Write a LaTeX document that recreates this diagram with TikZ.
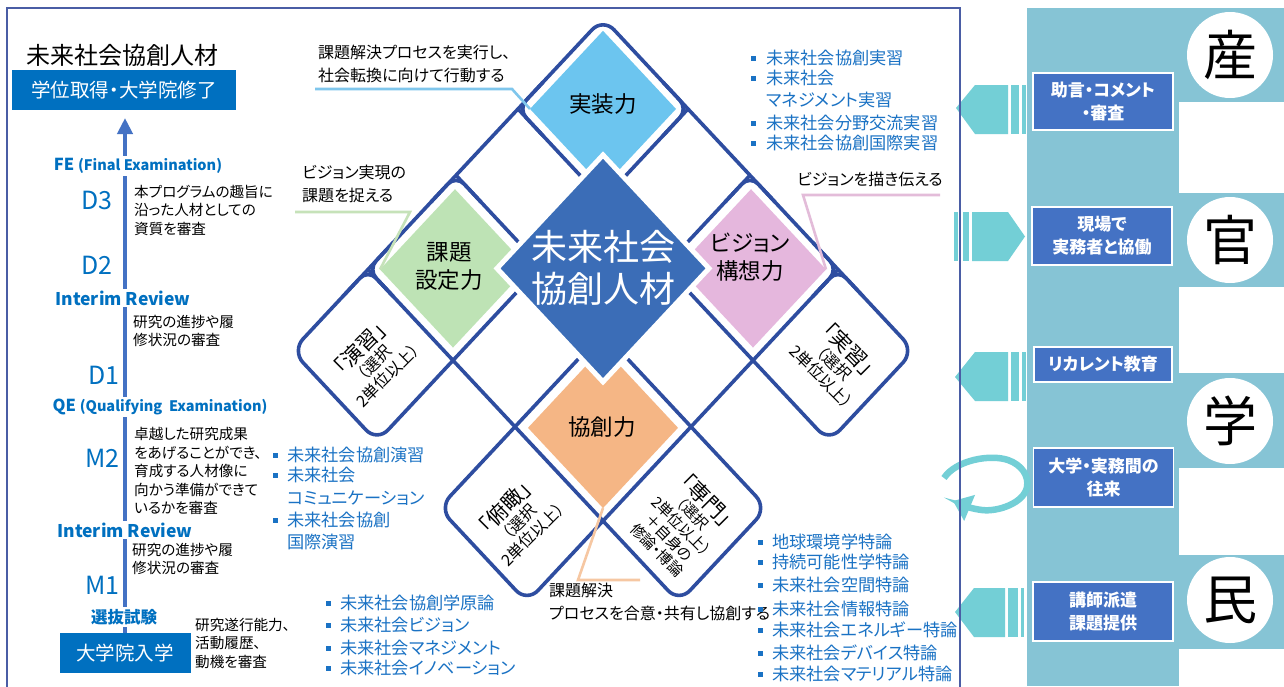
\documentclass[tikz,border=0pt]{standalone}
\usepackage{fontspec}
\setmainfont{Noto Sans CJK JP}[RawFeature=+palt]
\usetikzlibrary{arrows.meta}
\newcommand{\myfs}[2]{\fontsize{#1}{#2}\selectfont}
\definecolor{framecol}{HTML}{4A5DA5}
\definecolor{lattcol}{HTML}{2E4DA0}
\definecolor{fblue}{HTML}{6CC5EF}
\definecolor{fgreen}{HTML}{BEE3B5}
\definecolor{fpink}{HTML}{E5B7DD}
\definecolor{forange}{HTML}{F5B685}
\definecolor{darkdia}{HTML}{3B6DB7}
\definecolor{leadblue}{HTML}{7FC6EC}
\definecolor{leadgreen}{HTML}{C6E2B9}
\definecolor{leadpink}{HTML}{E3BCD9}
\definecolor{leadorange}{HTML}{F6C7A2}
\definecolor{listblue}{HTML}{1A72C4}
\definecolor{labblue}{HTML}{0070C0}
\definecolor{axisblue}{HTML}{4472C4}
\definecolor{panelcol}{HTML}{86C4D5}
\definecolor{pboxcol}{HTML}{4472C4}
\definecolor{tealcol}{HTML}{73CFD6}
\begin{document}
\begin{tikzpicture}[x=1pt,y=-1pt,
  latt/.style={draw=lattcol, line width=3.6pt},
  lead/.style={line width=2.6pt},
  note/.style={inner sep=0pt, align=left, anchor=west, font=\myfs{14.6}{18.5}},
  lab/.style={inner sep=2pt, fill=white, text=labblue, font=\bfseries\myfs{17.5}{19}},
  dlab/.style={inner sep=0pt, anchor=east, text=labblue, font=\myfs{25}{28}},
  listtxt/.style={inner sep=0pt, anchor=west, text=listblue, font=\myfs{17.2}{21}},
  bul/.style={fill=listblue},
  pbox/.style={fill=pboxcol, draw=white, line width=1.2pt, text=white, font=\bfseries\myfs{17}{23}, align=center, minimum width=140pt, inner sep=0pt},
  circ/.style={circle, fill=white, minimum size=86pt, inner sep=0pt, font=\myfs{54}{54}},
  callout/.style={inner sep=0pt, anchor=west, align=left, font=\myfs{16}{23}},
  facet/.style={inner sep=0pt, align=center, font=\myfs{22.5}{28}},
  rottxt/.style={inner sep=0pt, align=center, font=\myfs{16}{18.5}},
  bluebox/.style={fill=labblue, text=white, inner sep=0pt, font=\myfs{19.5}{22}},
  arrowfill/.style={fill=tealcol}
]
\fill[white] (0,0) rectangle (1284,686);
\useasboundingbox (0,0) rectangle (1284,686);

% ---------- right panel ----------
\fill[panelcol] (1027,8) rectangle (1179,686);
\fill[panelcol] (1179,8) rectangle (1284,102);
\fill[panelcol] (1179,193) rectangle (1284,287);
\fill[panelcol] (1179,373) rectangle (1284,468);
\fill[panelcol] (1179,555) rectangle (1284,649);
\node[circ] (san) at (1230,55) {産};
\node[circ] (kan) at (1230,240) {官};
\node[circ] (gaku) at (1230,421) {学};
\node[circ] (min) at (1230,600) {民};

\node[pbox, minimum height=57pt] (pb1) at (1103,101.5) {助言・コメント\\・審査};
\node[pbox, minimum height=58pt] (pb2) at (1102,236) {現場で\\実務者と協働};
\node[pbox, minimum height=35pt, minimum width=138pt] (pb3) at (1103,364.5) {リカレント教育};
\node[pbox, minimum height=59pt] (pb4) at (1103.5,477.5) {大学・実務間の\\往来};
\node[pbox, minimum height=59pt] (pb5) at (1103,611.5) {講師派遣\\課題提供};

% arrows
\fill[arrowfill] (956,108) -- (975,85) -- (1008,85) -- (1008,134) -- (975,134) -- cycle;
\fill[arrowfill] (1011,85) rectangle (1019,134);
\fill[arrowfill] (1022,85) rectangle (1026,134);
\fill[arrowfill] (972,212) -- (1008,212) -- (1025,236.5) -- (1008,261) -- (972,261) -- cycle;
\fill[arrowfill] (954,212) rectangle (958,261);
\fill[arrowfill] (963,212) rectangle (969,261);
\fill[arrowfill] (955,377) -- (975,352) -- (1008,352) -- (1008,401) -- (975,401) -- cycle;
\fill[arrowfill] (1011,352) rectangle (1019,401);
\fill[arrowfill] (1022,352) rectangle (1026,401);
\fill[arrowfill] (955,612) -- (974,588) -- (1005,588) -- (1005,637) -- (974,637) -- cycle;
\fill[arrowfill] (1008,588) rectangle (1018,637);
\fill[arrowfill] (1021,588) rectangle (1024,637);
\draw[tealcol, line width=6.5pt, -{Triangle[length=18pt,width=27pt]}]
  (944,478) .. controls (956,460) and (990,454) .. (1008,460)
  .. controls (1022,465) and (1029,476) .. (1027,487)
  .. controls (1024,503) and (998,512) .. (982,510)
  .. controls (973,509) and (965,506) .. (953,501);

% ---------- frame ----------
\draw[framecol, line width=1.3pt] (7,690) -- (7,8) -- (960,8) -- (960,690);

% ---------- left column ----------
\node[anchor=west, inner sep=0pt, font=\myfs{24}{28}] (title) at (26,55) {未来社会協創人材};
\node[bluebox, minimum width=224pt, minimum height=40pt] (grad) at (124,90) {学位取得・大学院修了};
\node[bluebox, minimum width=131pt, minimum height=40pt] (adm) at (125,653) {大学院入学};
\coordinate (tipc) at (125,118);
\draw[axisblue, line width=4.5pt, -{Triangle[length=16pt,width=15pt]}] (adm.north) -- (tipc);

\node[lab] (fe) at (138,166) {\myfs{16.5}{19}FE \myfs{14.5}{17}(Final Examination)};
\node[lab] (ir1) at (123,298) {Interim Review};
\node[lab] (qe) at (160,407) {\myfs{16.5}{19}QE \myfs{14.5}{17}(Qualifying~ Examination)};
\node[lab] (ir2) at (125,530) {Interim Review};
\node[lab, font=\bfseries\myfs{16.5}{19}] (sen) at (124,617) {選抜試験};

\node[dlab] (d3) at (113,200) {D3};
\node[dlab] (d2) at (113,265) {D2};
\node[dlab] (d1) at (120,375) {D1};
\node[dlab] (m2) at (120,458) {M2};
\node[dlab] (m1) at (120,585) {M1};

\node[note] (n1) at (134,210) {本プログラムの趣旨に\\沿った人材としての\\資質を審査};
\node[note] (n2) at (133,331) {研究の進捗や履\\修状況の審査};
\node[note] (n3) at (134,471) {卓越した研究成果\\をあげることができ、\\育成する人材像に\\向かう準備ができて\\いるかを審査};
\node[note] (n4) at (132,559) {研究の進捗や履\\修状況の審査};
\node[note] (n5) at (195,643) {研究遂行能力、\\活動履歴、\\動機を審査};

% ---------- lattice ----------
\begin{scope}[shift={(603,18)}, x={(1pt,-1.07pt)}, y={(-1pt,-1.07pt)}]
  \fill[fblue] (6,6) -- (79,6) -- (79,79) -- (6,79) -- cycle;
  \fill[fgreen] (6,154) -- (79,154) -- (79,229) -- (6,229) -- cycle;
  \fill[fpink] (154,6) -- (229,6) -- (229,79) -- (154,79) -- cycle;
  \fill[forange] (154,154) -- (229,154) -- (229,229) -- (154,229) -- cycle;
  \draw[latt, rounded corners=16pt] (235,85) -- (311,85) -- (311,0) -- (0,0) -- (0,311) -- (85,311) -- (85,235);
  \draw[latt, rounded corners=16pt] (235,147) -- (311,147) -- (311,235) -- (235,235);
  \draw[latt, rounded corners=16pt] (235,235) -- (235,311) -- (147,311) -- (147,235);
  \draw[latt] (85,0) -- (85,235);
  \draw[latt] (147,0) -- (147,235);
  \draw[latt] (235,0) -- (235,235);
  \draw[latt] (0,85) -- (235,85);
  \draw[latt] (0,147) -- (235,147);
  \draw[latt] (0,235) -- (235,235);
  \draw[latt, rounded corners=12pt] (0,60) -- (0,85) -- (25,85);
  \draw[latt, rounded corners=12pt] (0,172) -- (0,147) -- (25,147);
  \draw[latt, rounded corners=12pt] (0,210) -- (0,235) -- (25,235);
  \draw[latt, rounded corners=12pt] (0,260) -- (0,235) -- (25,235);
  \draw[latt, rounded corners=12pt] (60,0) -- (85,0) -- (85,25);
  \draw[latt, rounded corners=12pt] (172,0) -- (147,0) -- (147,25);
  \draw[latt, rounded corners=12pt] (210,0) -- (235,0) -- (235,25);
  \draw[latt, rounded corners=12pt] (260,0) -- (235,0) -- (235,25);
  \filldraw[fill=darkdia, draw=white, line width=5pt] (64,64) -- (170,64) -- (170,170) -- (64,170) -- cycle;
  \coordinate (blueL) at (6,79);
  \coordinate (greenL) at (6,229);
  \coordinate (pinkR) at (229,6);
  \coordinate (orangeB) at (229,229);
\end{scope}

% ---------- callouts ----------
\node[callout] (c1) at (318,63.5) {課題解決プロセスを実行し、\\社会転換に向けて行動する};
\coordinate (c1a) at (315,89); \coordinate (c1b) at (512,89);
\draw[lead, leadblue] (c1a) -- (c1b) -- (blueL);
\node[callout] (c2) at (302,184) {ビジョン実現の\\課題を捉える};
\coordinate (c2a) at (295,212); \coordinate (c2b) at (410,212);
\draw[lead, leadgreen] (c2a) -- (c2b) -- (greenL);
\node[callout] (c3) at (797,179) {ビジョンを描き伝える};
\coordinate (c3a) at (940,195); \coordinate (c3b) at (803,195);
\draw[lead, leadpink] (c3a) -- (c3b) -- (pinkR);
\coordinate (c4a) at (578,580); \coordinate (c4b) at (640,580);
\draw[lead, leadorange] (orangeB) -- (c4a) -- (c4b);
\node[callout] (c4) at (549,601.5) {課題解決\\プロセスを合意・共有し協創する};

% ---------- centre texts ----------
\node[facet] (tJ) at (603,104) {実装力};
\node[facet] (tK) at (449,266) {課題\\設定力};
\node[facet] (tV) at (750,257) {ビジョン\\構想力};
\node[facet] (tC) at (602,427) {協創力};
\node[inner sep=0pt, align=center, text=white, font=\myfs{36}{42}] (core) at (603,268) {未来社会\\協創人材};

\node[rottxt, rotate=45] (tEn) at (373,361) {{\myfs{21}{23}「演習」}\\（選択\\2単位以上）};
\node[rottxt, rotate=-45] (tJi) at (836,362) {{\myfs{21}{23}「実習」}\\（選択\\2単位以上）};
\node[rottxt, rotate=45] (tFu) at (518,520) {{\myfs{21}{23}「俯瞰」}\\（選択\\2単位以上）};
\node[rottxt, rotate=-45, font=\myfs{15}{17}] (tSe) at (683,524) {{\myfs{21}{23}「専門」}\\（選択\\2単位以上）\\＋自身の\\修論・博論};

% ---------- lists ----------
\foreach \yy/\tt [count=\i] in {58/未来社会協創実習, 78/未来社会, 100/マネジメント実習, 123/未来社会分野交流実習, 143/未来社会協創国際実習}
  {\node[listtxt] (tr\i) at (766,\yy) {\tt};}
\foreach \yy in {58,78,123,143} {\fill[bul] (750.5,\yy-2.5) rectangle ++(5,5);}

\foreach \yy/\tt [count=\i] in {455/未来社会協創演習, 475/未来社会, 498/コミュニケーション, 520/未来社会協創, 542/国際演習}
  {\node[listtxt] (ml\i) at (287,\yy) {\tt};}
\foreach \yy in {455,475,520} {\fill[bul] (272.5,\yy-2.5) rectangle ++(5,5);}

\foreach \yy/\tt [count=\i] in {603/未来社会協創学原論, 625/未来社会ビジョン, 648/未来社会マネジメント, 668/未来社会イノベーション}
  {\node[listtxt] (bc\i) at (340,\yy) {\tt};}
\foreach \yy in {603,625,648,668} {\fill[bul] (325.5,\yy-2.5) rectangle ++(5,5);}

\foreach \yy/\tt [count=\i] in {542/地球環境学特論, 562/持続可能性学特論, 585/未来社会空間特論, 609/未来社会情報特論, 630/未来社会エネルギー特論, 653/未来社会デバイス特論, 674/未来社会マテリアル特論}
  {\node[listtxt] (br\i) at (772,\yy) {\tt};}
\foreach \yy in {542,562,585,609,630,653,674} {\fill[bul] (757.5,\yy-2.5) rectangle ++(5,5);}
\end{tikzpicture}
\end{document}
